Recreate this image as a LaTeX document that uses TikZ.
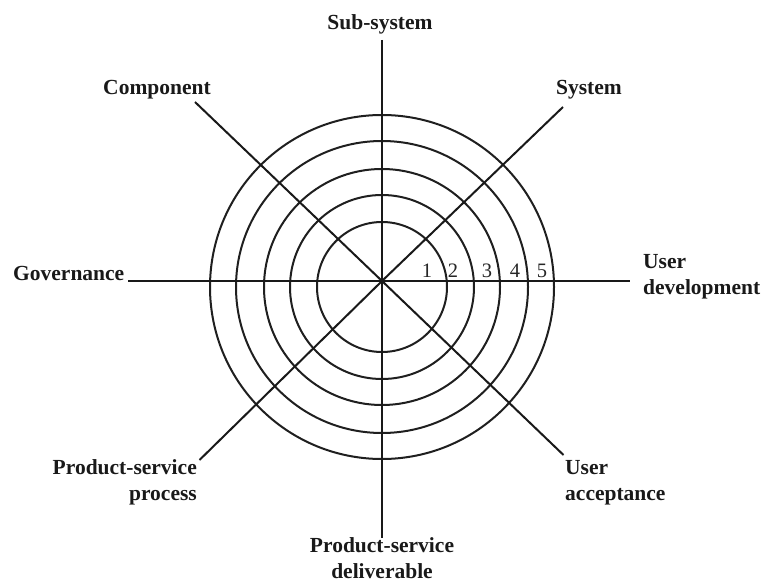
\documentclass[tikz,border=0pt]{standalone}
\usepackage{fontspec}
\setmainfont{Liberation Serif}
\begin{document}
\begin{tikzpicture}[x=1pt,y=-1pt,
  lbl/.style={font=\fontsize{21.5}{26}\selectfont\bfseries, text=black!90, inner sep=0pt},
  num/.style={font=\fontsize{20.5}{24}\selectfont, text=black!85, inner sep=0pt, anchor=base},
  ring/.style={line width=2pt, draw=black!88},
  spoke/.style={line width=2pt, draw=black!90},
  axis/.style={line width=2.8pt, draw=black!90}]
\useasboundingbox (0,0) rectangle (763,585);
\coordinate (c) at (382,281);
\coordinate (rc) at (382,287);
\foreach \r in {65,92,118,146,172} \draw[ring] (rc) circle[radius=\r pt];
% spoke ends
\coordinate (eN) at (382,40);
\coordinate (eS) at (382,538);
\coordinate (eW) at (128,281);
\coordinate (eE) at (630,281);
\coordinate (eNW) at (195,102);
\coordinate (eNE) at (563,107);
\coordinate (eSW) at (199.5,460);
\coordinate (eSE) at (563.5,455);
\draw[spoke] (eN) -- (eS);
\draw[axis] (eW) -- (eE);
\draw[spoke] (eNW) -- (c) -- (eSE);
\draw[spoke] (eNE) -- (c) -- (eSW);
% labels
\node[lbl, anchor=base] (sub) at (380,30) {Sub-system};
\node[lbl, anchor=base] (comp) at (157,95) {Component};
\node[lbl, anchor=base] (sys) at (589,95) {System};
\node[lbl, anchor=base west] (gov) at (13,280.5) {Governance};
\node[lbl, anchor=base west, align=left] (udev) at (643,295) {User\\development};
\node[lbl, anchor=base east, align=right] (psp) at (197,500) {Product-service\\process};
\node[lbl, anchor=base west, align=left] (uacc) at (565,500) {User\\acceptance};
\node[lbl, anchor=base, align=center] (psd) at (382,578) {Product-service\\deliverable};
% ring numbers
\node[num] (n1) at (427,278) {1};
\node[num] (n2) at (453,278) {2};
\node[num] (n3) at (487,278) {3};
\node[num] (n4) at (515,278) {4};
\node[num] (n5) at (542,278) {5};
\end{tikzpicture}
\end{document}
